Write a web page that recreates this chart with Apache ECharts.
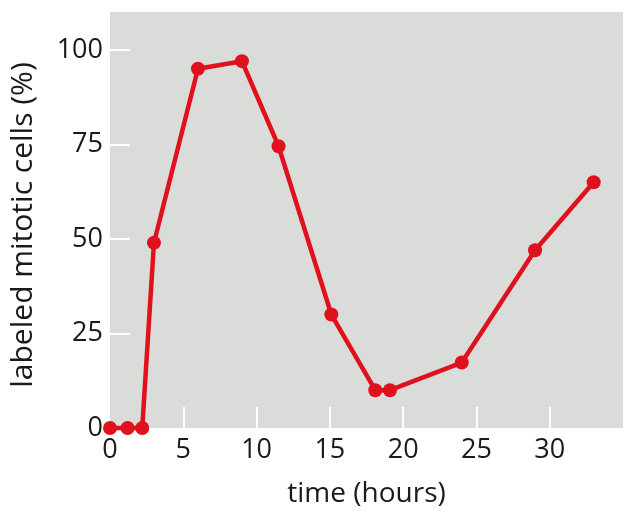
<!DOCTYPE html>
<html>
<head>
<meta charset="utf-8">
<script src="https://cdn.jsdelivr.net/npm/echarts@6/dist/echarts.min.js"></script>
<style>
  html, body { margin: 0; padding: 0; background: #fff; }
  #chart { width: 635px; height: 527px; }
</style>
</head>
<body>
<div id="chart"></div>
<script>
// time (hours) and labeled mitotic cells (%)
const hours = [0, 1.2, 2.2, 3, 6, 9, 11.5, 15.1, 18.1, 19.1, 24, 29, 33];
const labeled = [0, 0, 0, 49, 95, 97, 74.5, 30, 10, 10, 17.3, 47, 65];
const xTicks = [5, 10, 15, 20, 25, 30];
const xLabels = [0, 5, 10, 15, 20, 25, 30];
const yTicks = [25, 50, 75, 100];
const yLabels = [0, 25, 50, 75, 100];

const font = '"Open Sans", "Noto Sans", sans-serif';
const chart = echarts.init(document.getElementById('chart'));

chart.setOption({
  animation: false,
  grid: {
    left: 110, right: 12, top: 12, bottom: 99,
    show: true, backgroundColor: '#d9dcd9', borderWidth: 0
  },
  xAxis: {
    type: 'value',
    min: 0, max: 35, interval: 5,
    name: 'time (hours)',
    nameLocation: 'middle',
    nameGap: 52,
    nameTextStyle: { fontFamily: font, fontSize: 28, color: '#1a1a1a' },
    axisLine: { show: false },
    splitLine: { show: false },
    axisTick: {
      show: true, inside: true, length: 21, customValues: xTicks,
      lineStyle: { color: '#ffffff', width: 2 }
    },
    axisLabel: {
      customValues: xLabels, margin: 9,
      fontFamily: font, fontSize: 27, color: '#1a1a1a'
    }
  },
  yAxis: {
    type: 'value',
    min: 0, max: 110, interval: 25,
    name: 'labeled mitotic cells (%)',
    nameLocation: 'middle',
    nameGap: 72,
    nameTextStyle: { fontFamily: font, fontSize: 30, color: '#1a1a1a', padding: [0, 10, 0, 0] },
    axisLine: { show: false },
    splitLine: { show: false },
    axisTick: {
      show: true, inside: true, length: 20, customValues: yTicks,
      lineStyle: { color: '#ffffff', width: 2 }
    },
    axisLabel: {
      customValues: yLabels, margin: 7,
      fontFamily: font, fontSize: 27, color: '#1a1a1a'
    }
  },
  series: [{
    type: 'line',
    data: hours.map((h, i) => [h, labeled[i]]),
    symbol: 'circle',
    symbolSize: 14,
    clip: false,
    lineStyle: { color: '#e0101c', width: 4.5 },
    itemStyle: { color: '#e0101c' }
  }]
});
</script>
</body>
</html>
